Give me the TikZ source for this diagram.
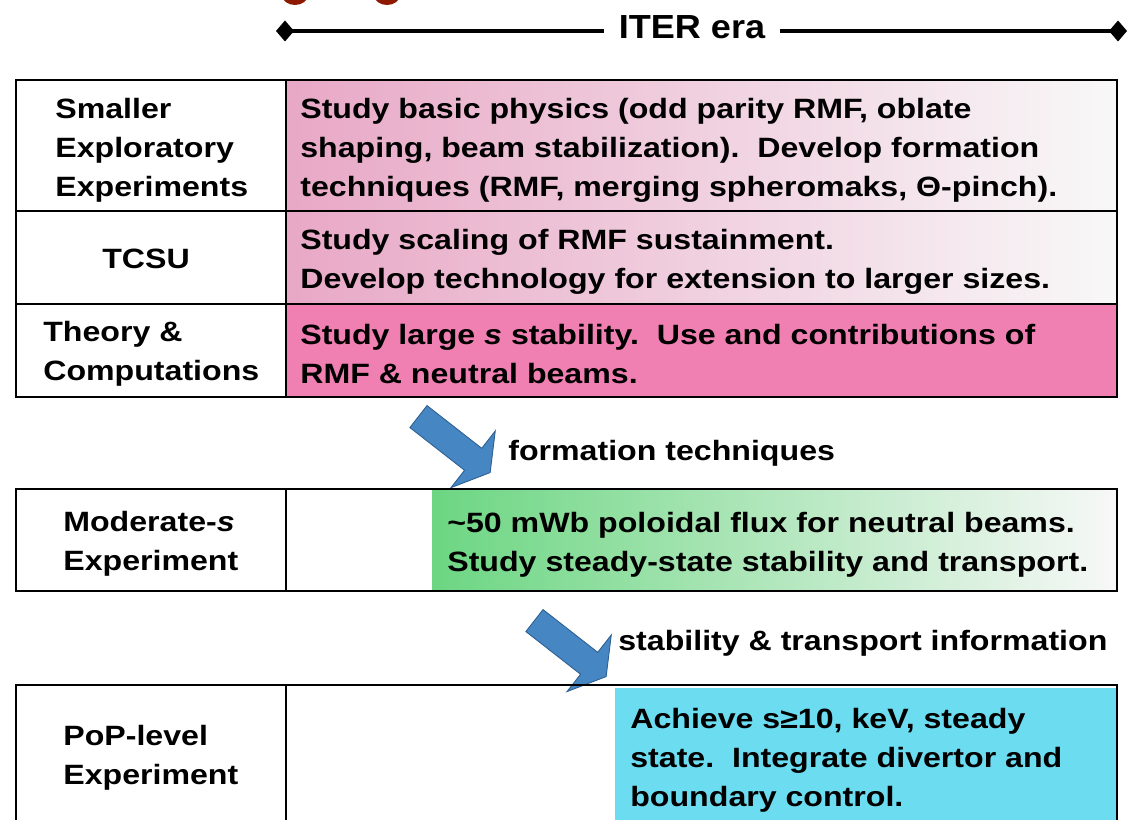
\documentclass[tikz,border=0pt]{standalone}
\usepackage{fontspec}
\setmainfont[FakeStretch=1.15]{Liberation Sans}
\newfontfamily\erafont[FakeStretch=1.08]{Liberation Sans}
\usetikzlibrary{shapes.arrows,arrows.meta}

\definecolor{rowpink}{RGB}{232,168,198}
\definecolor{thpink}{RGB}{240,128,178}
\definecolor{fadewhite}{RGB}{248,248,248}
\definecolor{modgreen}{RGB}{108,214,130}
\definecolor{popcyan}{RGB}{108,220,240}
\definecolor{arrowblue}{RGB}{70,135,195}
\definecolor{arrowedge}{RGB}{45,95,145}
\definecolor{dotred}{RGB}{140,25,0}

\tikzstyle{lbl} = [anchor=west,align=left,inner sep=0pt,font=\bfseries\fontsize{15.9}{22.2}\selectfont]
\tikzstyle{ctrlbl} = [lbl,anchor=center,align=center]
\tikzstyle{eralbl} = [inner xsep=8pt,inner ysep=0pt,font=\erafont\bfseries\fontsize{19}{22}\selectfont]
\tikzstyle{boxframe} = [line width=1.6pt]
\tikzstyle{gridline} = [line width=1pt]
\tikzstyle{eraline} = [line width=2.2pt]
\tikzstyle{flowarrow} = [shape=single arrow,draw=arrowedge,fill=arrowblue,line width=0.5pt,inner xsep=0pt,inner ysep=0.27cm,minimum height=1.82cm,single arrow head extend=0.44cm,single arrow tip angle=118,rotate=-38]

\begin{document}
\begin{tikzpicture}[x=0.02cm,y=-0.02cm]
	\useasboundingbox (0,0) rectangle (1129,820);
	\clip (0,0) rectangle (1129,820);

	\fill[dotred] (295,-5) ellipse [x radius=13, y radius=10];
	\fill[dotred] (387,-5) ellipse [x radius=13, y radius=10];

	\coordinate (eraStart) at (276,31);
	\coordinate (eraEnd) at (1127,31);
	\node (era) [eralbl] at (692,27) {ITER era};
	\draw[eraline,{Diamond[length=0.36cm,width=0.42cm]}-] (eraStart) -- (era.west |- eraStart);
	\draw[eraline,-{Diamond[length=0.36cm,width=0.42cm]}] (era.east |- eraEnd) -- (eraEnd);

	\shade[left color=rowpink,right color=fadewhite] (286,80) rectangle (1117,211);
	\shade[left color=rowpink,right color=fadewhite] (286,211) rectangle (1117,304);
	\fill[thpink] (286,304) rectangle (1117,397);
	\draw[gridline] (286,80) -- (286,397) (16,211) -- (1117,211) (16,304) -- (1117,304);
	\draw[boxframe] (16,80) rectangle (1117,397);

	\node (smallLbl) [lbl] at (55,150) {Smaller\\Exploratory\\Experiments};
	\node (smallTxt) [lbl] at (300,150) {Study basic physics (odd parity RMF, oblate\\shaping, beam stabilization).\ \ Develop formation\\techniques (RMF, merging spheromaks, Θ-pinch).};
	\node (tcsuLbl) [ctrlbl] at (146,259) {TCSU};
	\node (tcsuTxt) [lbl] at (300,262) {Study scaling of RMF sustainment.\\Develop technology for extension to larger sizes.};
	\node (theoLbl) [lbl] at (43,354) {Theory \&\\Computations};
	\node (theoTxt) [lbl] at (300,354) {Study large \textit{s} stability.\ \ Use and contributions of\\RMF \& neutral beams.};

	\node (arrowA) [flowarrow] at (451,442) {};
	\node (formLbl) [lbl] at (508,453) {formation techniques};

	\shade[left color=modgreen,right color=fadewhite] (432,489) rectangle (1117,591);
	\draw[gridline] (286,489) -- (286,591);
	\draw[boxframe] (16,489) rectangle (1117,591);
	\node (modLbl) [lbl] at (63,544) {Moderate-\textit{s}\\Experiment};
	\node (modTxt) [lbl] at (447,545) {\textasciitilde50 mWb poloidal flux for neutral beams.\\Study steady-state stability and transport.};

	\node (arrowB) [flowarrow] at (567,646) {};
	\node (stabLbl) [lbl] at (618,643) {stability \& transport information};

	\fill[popcyan] (615,688) rectangle (1117,830);
	\draw[gridline] (286,685) -- (286,830);
	\draw[boxframe] (16,685) rectangle (1117,830);
	\node (popLbl) [lbl] at (63,758) {PoP-level\\Experiment};
	\node (popTxt) [lbl] at (630,760) {Achieve s≥10, keV, steady\\state.\ \ Integrate divertor and\\boundary control.};

\end{tikzpicture}
\end{document}
